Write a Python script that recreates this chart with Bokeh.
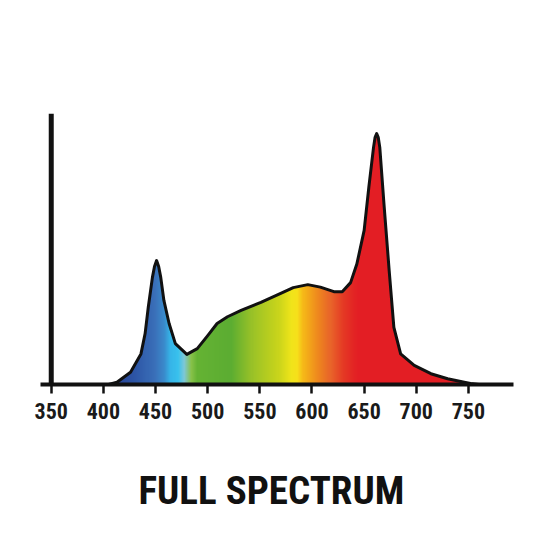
import numpy as np
from bokeh.plotting import figure
from bokeh.models import Range1d, FixedTicker, Span, LinearAxis, Title
from bokeh.embed import file_html
from bokeh.resources import INLINE

# Spectrum (wavelength in nm, relative intensity in %)
wavelength = [405, 413, 426, 436, 440, 443, 447, 449, 451, 453, 455, 458, 463,
              469, 480, 490, 500, 509, 519, 532, 551, 570, 582, 596, 608, 621,
              629, 637, 643, 650, 654.5, 659, 660.5, 662, 663.5, 665, 669, 674,
              678.5, 685, 698, 714, 730, 746, 752, 760]
intensity = [0, 0.9, 4.9, 12.2, 20.3, 30.7, 42.7, 47.0, 49.4, 47.0, 42.7, 33.5,
             24.3, 16.3, 12.0, 14.3, 19.5, 24.3, 27.0, 29.5, 32.7, 36.3, 38.6,
             39.8, 38.8, 37.0, 37.0, 40.6, 48.0, 61.4, 78.6, 94.5, 98.5, 100,
             98.5, 94.5, 72.0, 45.4, 22.8, 12.2, 7.6, 4.3, 2.3, 0.9, 0.4, 0]

ticks = [350, 400, 450, 500, 550, 600, 650, 700, 750]
tick_labels = ["350", "400", "450", "500", "550", "600", "650", "700", "750"]
title_text = "FULL SPECTRUM"

# Colour stops of the spectral gradient
stop_nm = [405, 416, 429, 448, 458, 464, 471, 477, 484, 490, 522, 544, 567,
           580, 586, 592, 605, 618, 630, 644, 760]
stop_col = ["#2b4a9b", "#2b4a9b", "#2d55a5", "#3a6fb8", "#3a8bcc", "#36b4e8",
            "#39c2ee", "#7ec8d8", "#88c24a", "#65b334", "#5cad32", "#9ec427",
            "#c8d41c", "#f0e51a", "#f6e11b", "#f6b618", "#ef8a1e", "#e9632a",
            "#e53a25", "#e31e24", "#e31e24"]

ink = "#111111"
cond = "'Roboto Condensed', 'DejaVu Sans Condensed', 'Arial Narrow', Roboto"

p = figure(width=532, height=532,
           x_range=Range1d(339.7, 793.2), y_range=Range1d(0, 108),
           output_backend="svg", toolbar_location=None,
           y_axis_location=None,
           min_border_left=40, min_border_right=19,
           min_border_top=113, min_border_bottom=148)
p.outline_line_color = None
p.grid.visible = False
p.background_fill_color = "white"
p.border_fill_color = "white"

# gradient image
x0, x1 = wavelength[0], wavelength[-1]
cols = np.arange(x0, x1 + 1)
rgb = np.array([[int(c[i:i + 2], 16) for i in (1, 3, 5)] for c in stop_col], dtype=float)
N = len(cols)
img = np.zeros((1, N), dtype=np.uint32)
view = img.view(dtype=np.uint8).reshape((1, N, 4))
for k in range(3):
    view[0, :, k] = np.interp(cols, stop_nm, rgb[:, k]).astype(np.uint8)
view[0, :, 3] = 255
p.image_rgba(image=[img], x=x0, y=0, dw=x1 - x0, dh=max(intensity))

# white mask above the curve (a little wider than the image)
top = p.y_range.end
pad = 6
p.patch([x0 - pad] + wavelength + [x1 + pad, x1 + pad, x0 - pad],
        [0] + intensity + [0, top, top],
        fill_color="white", line_color=None)

# outline
p.line(wavelength, intensity, line_width=3, line_color=ink, line_join="round")

# vertical axis line at 350 nm
p.add_layout(Span(location=ticks[0], dimension="height",
                  line_color=ink, line_width=5))

ax = p.xaxis[0]
ax.ticker = FixedTicker(ticks=ticks, minor_ticks=[])
ax.major_label_overrides = {t: s for t, s in zip(ticks, tick_labels)}
ax.axis_line_width = 4
ax.axis_line_color = ink
ax.major_tick_out = 9
ax.major_tick_in = 0
ax.major_tick_line_width = 2.5
ax.major_tick_line_color = ink
ax.minor_tick_out = 0
ax.major_label_text_font = cond
ax.major_label_text_font_size = "22px"
ax.major_label_text_font_style = "bold"
ax.major_label_text_color = "#1a1a1a"
ax.major_label_standoff = 9

# invisible spacer axis (one hidden tick) to push the title down
spacer = LinearAxis(ticker=FixedTicker(ticks=[ticks[0]], minor_ticks=[]),
                    major_label_overrides={ticks[0]: ""},
                    major_label_text_font_size="0px",
                    major_label_standoff=0,
                    axis_line_color=None, major_tick_line_color=None,
                    minor_tick_line_color=None,
                    major_tick_out=43, major_tick_in=0,
                    minor_tick_out=0, minor_tick_in=0)
p.add_layout(spacer, "below")

title = Title(text=title_text, align="left", offset=98,
              text_font=cond, text_font_style="bold",
              text_font_size="39px", text_color=ink, standoff=2)
p.add_layout(title, "below")

open("out.html", "w").write(file_html(p, INLINE))
